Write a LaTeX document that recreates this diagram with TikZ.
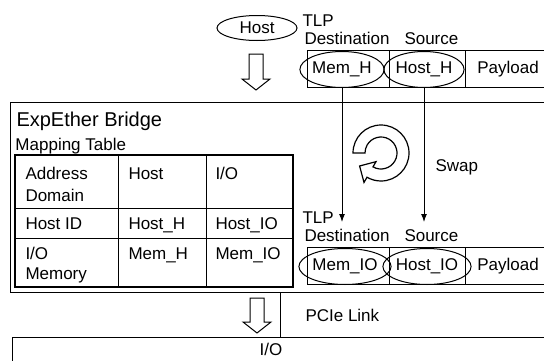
\documentclass[tikz,border=0pt]{standalone}
\usepackage{fontspec}
\setmainfont{Liberation Sans}
\usetikzlibrary{arrows.meta,shapes.geometric}

\begin{document}
\begin{tikzpicture}[x=1pt,y=1pt,line width=1pt,
    every node/.style={font=\fontsize{17}{20}\selectfont,inner sep=0pt},
    lbl/.style={anchor=base west},
    fldbox/.style={draw,minimum height=37,anchor=south west},
    fld/.style={draw,ellipse,minimum height=36}]
  \useasboundingbox (0,0) rectangle (544,360);
  \clip (0,0) rectangle (544,360);

  % host side
  \node[fld,minimum width=80,minimum height=25] (host) at (257,332) {Host};
  \draw (249,306) -- ++(14,0) -- ++(0,-25) -- ++(7,0) -- ++(-14,-11) -- ++(-14,11) -- ++(7,0) -- cycle;

  % TLP going in
  \node[lbl] (tlpa) at (302,334) {TLP};
  \node[lbl] (dsta) at (304,316) {Destination};
  \node[lbl] (srca) at (404,316) {Source};
  \node[fldbox,minimum width=82] (boxa1) at (307,272) {};
  \node[fldbox,minimum width=76] (boxa2) at (389,272) {};
  \node[fldbox,minimum width=85] (boxa3) at (465,272) {Payload};
  \node[fld,minimum width=70] (memh) at (342,290.5) {Mem\_H};
  \node[fld,minimum width=68] (hosth) at (424,290.5) {Host\_H};

  % bridge
  \node[draw,anchor=north west,minimum width=540,minimum height=190] (bridge) at (10,258) {};
  \node[lbl,font=\fontsize{20}{22}\selectfont] (bname) at (16,234) {ExpEther Bridge};
  \node[lbl] (mtab) at (15,210) {Mapping Table};

  % mapping table
  \draw[line width=2pt] (15,73) rectangle (293,205);
  \draw (15,152) -- (293,152);
  \draw (15,122) -- (293,122);
  \draw (118,73) -- (118,205);
  \draw (206,73) -- (206,205);
  \node[lbl] (t11) at (25,181) {Address};
  \node[lbl] (t11b) at (25,159) {Domain};
  \node[lbl] (t12) at (128,181) {Host};
  \node[lbl] (t13) at (215,181) {I/O};
  \node[lbl] (t21) at (25,131) {Host ID};
  \node[lbl] (t22) at (128,131) {Host\_H};
  \node[lbl] (t23) at (215,131) {Host\_IO};
  \node[lbl] (t31) at (25,101) {I/O};
  \node[lbl] (t31b) at (25,81) {Memory};
  \node[lbl] (t32) at (128,101) {Mem\_H};
  \node[lbl] (t33) at (215,101) {Mem\_IO};

  % swap
  \begin{scope}[shift={(381,207)}]
    \draw[line width=1.2pt] (180:28) arc[start angle=180,end angle=-120,radius=28]
      -- (240:34) -- (-21.4,-13) -- (240:10) -- (240:16)
      arc[start angle=-120,end angle=180,radius=16] -- cycle;
  \end{scope}
  \node[lbl] (swap) at (435,189) {Swap};

  % TLP going out
  \node[lbl] (tlpb) at (302,137) {TLP};
  \node[lbl] (dstb) at (304,119) {Destination};
  \node[lbl] (srcb) at (404,119) {Source};
  \node[fldbox,minimum width=82] (boxb1) at (307,75) {};
  \node[fldbox,minimum width=76] (boxb2) at (389,75) {};
  \node[fldbox,minimum width=85] (boxb3) at (465,75) {Payload};
  \node[fld,minimum width=74] (memio) at (345,93.5) {Mem\_IO};
  \node[fld,minimum width=74] (hostio) at (427,93.5) {Host\_IO};

  \coordinate (enda) at (342,138);
  \coordinate (endb) at (424,138);
  \draw[-{Latex[length=8pt,width=6pt]}] (memh.south) -- (enda);
  \draw[-{Latex[length=8pt,width=6pt]}] (hosth.south) -- (endb);

  % link and I/O
  \draw (250,62) -- ++(14,0) -- ++(0,-24) -- ++(7,0) -- ++(-14,-11) -- ++(-14,11) -- ++(7,0) -- cycle;
  \draw (280,68) -- (280,23);
  \node[lbl] (pcie) at (305,39) {PCIe Link};
  \node[draw,anchor=north west,minimum width=540,minimum height=40] (iobox) at (12,23) {};
  \node[anchor=base] (io) at (271,5) {I/O};
\end{tikzpicture}
\end{document}
